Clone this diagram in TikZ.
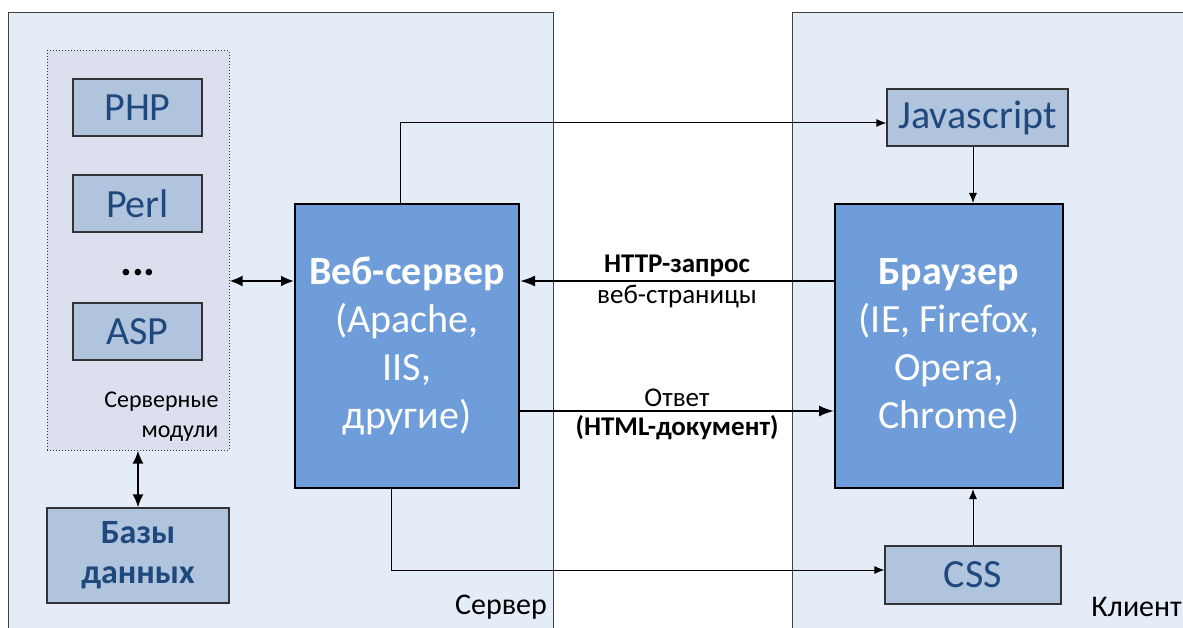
\documentclass[tikz,border=0pt]{standalone}
\usepackage{fontspec}
\setmainfont{Carlito}
\usetikzlibrary{arrows.meta}
\definecolor{panelfill}{HTML}{E4ECF7}
\definecolor{modfill}{HTML}{DCE0EE}
\definecolor{smallfill}{HTML}{B1C4DE}
\definecolor{bigfill}{HTML}{6F9DDA}
\definecolor{darkblue}{HTML}{1F497D}
\tikzset{
  panel/.style={fill=panelfill,draw=black!75,line width=1pt},
  smallbox/.style={draw=black!80,line width=1.2pt,fill=smallfill,text=darkblue,inner sep=0pt,font=\fontsize{40}{48}\selectfont},
  bigbox/.style={draw=black,line width=2pt,fill=bigfill,text=white,inner sep=0pt,align=center,minimum height=284pt,font=\fontsize{40}{48}\selectfont},
  link/.style={line width=1pt,-{Latex[length=10pt,width=8pt]}},
  flow/.style={line width=2pt,-{Latex[length=15pt,width=11pt]}},
  both/.style={line width=2pt,{Latex[length=13pt,width=11pt]}-{Latex[length=13pt,width=11pt]}},
  small/.style={font=\fontsize{27}{32}\selectfont},
  smallbf/.style={font=\fontsize{27}{32}\selectfont\bfseries}
}
\begin{document}
\begin{tikzpicture}[x=1pt,y=-1pt]
\useasboundingbox (0,0) rectangle (1183,628);
% panels
\fill[panelfill] (8,13) rectangle (553,640);
\draw[panel,fill=none] (8,640) -- (8,13) -- (553,13) -- (553,640);
\fill[panelfill] (792,13) rectangle (1200,640);
\draw[panel,fill=none] (792,640) -- (792,13) -- (1200,13);
\node at (501,607) [font=\fontsize{30}{36}\selectfont] {Сервер};
\node at (1182,607) [anchor=east,inner sep=0pt,font=\fontsize{30}{36}\selectfont] {Клиент};
% server modules
\node (mods) at (138,250.5) [draw=black!80,dotted,line width=1pt,fill=modfill,minimum width=182pt,minimum height=399pt] {};
\node (php) at (137.5,107.5) [smallbox,minimum width=129pt,minimum height=57pt] {PHP};
\node (perl) at (137.5,203.5) [smallbox,minimum width=129pt,minimum height=57pt] {Perl};
\node (dots) at (138,273) [font=\fontsize{44}{48}\selectfont\bfseries] {...};
\node (asp) at (137.5,331.5) [smallbox,minimum width=129pt,minimum height=57pt] {ASP};
\node (modtext) at (222,417) [anchor=east,align=right,font=\fontsize{24}{30}\selectfont] {Серверные\\модули};
\node (db) at (138,555.5) [smallbox,minimum width=182pt,minimum height=95pt,align=center,font=\fontsize{34}{40}\selectfont\bfseries] {Базы\\данных};
% main boxes
\node (web) at (407,346) [bigbox,minimum width=224pt] {\textbf{Веб-сервер}\\(Apache,\\IIS,\\другие)};
\node (browser) at (949,346) [bigbox,minimum width=228pt] {\textbf{Браузер}\\(IE, Firefox,\\Opera,\\Chrome)};
\node (js) at (977.5,117.5) [smallbox,minimum width=181pt,minimum height=57pt] {Javascript};
\node (css) at (973,575) [smallbox,minimum width=176pt,minimum height=58pt] {CSS};
% connectors
\draw[both] (mods.south) -- (db.north);
\draw[both] ([yshift=65pt]web.west) -- ([yshift=65pt]web.west -| mods.east);
\draw[flow] ([yshift=65pt]browser.west) -- ([yshift=65pt]web.east)
  node[midway,above=0pt,smallbf] {HTTP-запрос}
  node[midway,below=0pt,small] {веб-страницы};
\draw[flow] ([yshift=-65pt]web.east) -- ([yshift=-65pt]browser.west)
  node[midway,above=0pt,small] {Ответ}
  node[midway,below=0pt,smallbf] {(HTML-документ)};
\draw[link] ([xshift=-7pt]web.north) |- ([yshift=-5.5pt]js.west);
\draw[link] ([xshift=-16pt]web.south) |- ([yshift=5pt]css.west);
\draw[link] (js.south -| css) -- (browser.north -| css);
\draw[link] (css.north) -- (css.north |- browser.south);
\end{tikzpicture}
\end{document}
